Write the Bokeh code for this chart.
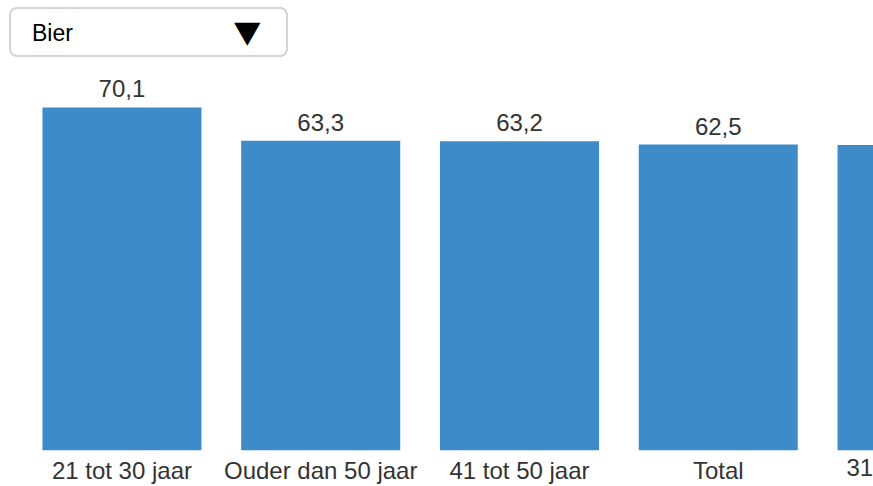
from bokeh.plotting import figure
from bokeh.models import Range1d, FixedTicker, Div, Column
from bokeh.core.properties import value
from bokeh.embed import file_html
from bokeh.resources import INLINE

# ---- data ----
categories = ["21 tot 30 jaar", "Ouder dan 50 jaar", "41 tot 50 jaar", "Total", "31 tot 40 jaar"]
values = [70.1, 63.3, 63.2, 62.5, 62.4]
selected_drink = "Bier"

FONT = "Liberation Sans"
BAR = "#3e8bc9"
TXT = "#333333"

W, H_DIV, H_FIG = 873, 57, 429
X_START, X_END = -0.111, 4.281
Y_END = 80.3
STANDOFF = 6
AXIS_PANEL = 36  # height taken by the category labels under the bars
HTML_TEXT_SHIFT = -9  # html line box vs. Bokeh's label box

xs = [i + 0.5 for i in range(len(categories))]
labels = [f"{v:.1f}".replace(".", ",") for v in values]
# only bars whose centre lies inside the visible window get a value label
shown = [i for i, x in enumerate(xs) if X_START < x < X_END]

# category labels whose tick falls just past the right edge: partly visible, as in the source
overflow_html = ""
for x, c in zip(xs, categories):
    if x > X_END:
        sx = (x - X_START) / (X_END - X_START) * W
        top = H_DIV + H_FIG - AXIS_PANEL + STANDOFF + HTML_TEXT_SHIFT
        overflow_html += (
            f'<div style="position:absolute;left:{sx - 120:.1f}px;top:{top}px;width:240px;'
            f"text-align:center;white-space:nowrap;font-family:'{FONT}';font-size:24px;"
            f'line-height:normal;color:{TXT};">{c}</div>'
        )

dropdown = Div(
    text=(
        '<div style="position:relative;">'
        '<div style="position:relative;box-sizing:border-box;margin-left:9px;margin-top:7px;'
        'width:279px;height:50px;border:2px solid #d4d4d4;border-radius:8px;'
        f"font-family:'{FONT}';font-size:23px;color:#000;background:#fff;\">"
        f'<span style="position:absolute;left:21px;top:8px;">{selected_drink}</span>'
        "<span style=\"position:absolute;left:223px;top:2px;font-family:'DejaVu Sans';"
        'font-size:30px;color:#000;display:inline-block;transform:scaleX(1.15);'
        'transform-origin:left center;">&#9660;</span>'
        "</div>"
        f"{overflow_html}"
        "</div>"
    ),
    width=300, height=H_DIV, margin=(0, 0, 0, 0),
)

p = figure(
    width=W, height=H_FIG,
    x_range=Range1d(X_START, X_END),
    y_range=Range1d(0, Y_END),
    y_axis_location=None,
    output_backend="svg", toolbar_location=None,
    min_border_left=0, min_border_right=0, min_border_top=0, min_border_bottom=0,
)
p.outline_line_color = None
p.background_fill_color = None
p.border_fill_color = None
for g in p.grid:
    g.visible = False

p.vbar(x=xs, top=values, width=0.8, bottom=0, fill_color=BAR, line_color=None)
p.text(x=[xs[i] for i in shown], y=[values[i] for i in shown], text=[labels[i] for i in shown],
       text_align="center", text_baseline="bottom",
       y_offset=-10, text_font=value(FONT), text_font_size=value("24px"), text_color=TXT)

ax = p.xaxis[0]
ax.ticker = FixedTicker(ticks=xs)
ax.major_label_overrides = {x: c for x, c in zip(xs, categories)}
ax.axis_line_color = None
ax.major_tick_line_color = None
ax.minor_tick_line_color = None
ax.major_tick_out = 0
ax.major_tick_in = 0
ax.major_label_standoff = STANDOFF
ax.major_label_text_font = FONT
ax.major_label_text_font_size = "24px"
ax.major_label_text_color = TXT

layout = Column(children=[dropdown, p], spacing=0)
open("out.html", "w").write(file_html(layout, INLINE))
